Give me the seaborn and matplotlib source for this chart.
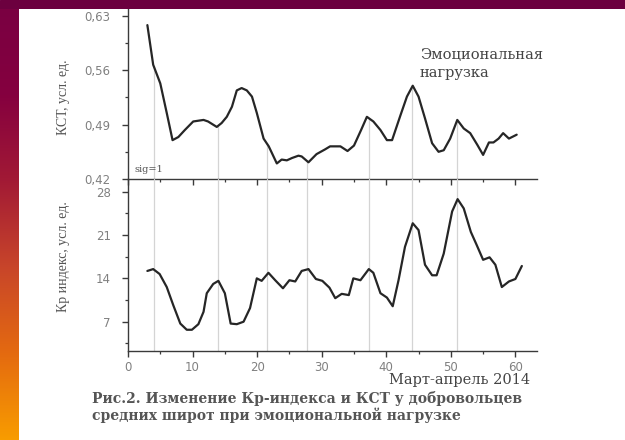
import numpy as np
import pandas as pd
import matplotlib
matplotlib.use("Agg")
import matplotlib.pyplot as plt
from matplotlib.colors import LinearSegmentedColormap
from matplotlib.ticker import MultipleLocator, FuncFormatter
import seaborn as sns

# КСТ by day of the March–April 2014 observation period
kst_day = [3.0, 3.9, 5.0, 6.0, 6.9, 7.8, 8.8, 10.1, 11.7, 12.4, 13.75, 14.5, 15.3, 16.1,
           16.85, 17.6, 18.4, 19.2, 19.95, 21.0, 21.8, 23.05, 23.8, 24.6, 25.4, 26.4, 26.9,
           27.95, 29.2, 30.5, 31.3, 32.9, 34.0, 35.0, 36.1, 37.0, 38.0, 39.1, 40.1, 40.9,
           42.2, 43.2, 44.1, 45.0, 46.0, 47.1, 48.1, 48.9, 49.9, 51.0, 52.0, 53.0, 54.1,
           55.0, 55.9, 56.6, 57.4, 58.1, 59.0, 60.2]
kst_val = [0.618, 0.567, 0.543, 0.505, 0.470, 0.474, 0.483, 0.494, 0.496, 0.494, 0.487,
           0.492, 0.500, 0.513, 0.534, 0.537, 0.534, 0.526, 0.505, 0.472, 0.462, 0.440,
           0.445, 0.444, 0.447, 0.450, 0.449, 0.4415, 0.452, 0.458, 0.462, 0.462, 0.456,
           0.463, 0.483, 0.500, 0.494, 0.483, 0.470, 0.470, 0.502, 0.526, 0.540, 0.526,
           0.498, 0.466, 0.455, 0.457, 0.472, 0.496, 0.485, 0.479, 0.464, 0.451, 0.467,
           0.467, 0.472, 0.479, 0.472, 0.477]

# Kp index by day
kp_day = [3.0, 3.9, 4.9, 6.0, 7.0, 8.1, 9.1, 9.9, 10.9, 11.7, 12.2, 13.2, 14.0, 15.0, 15.9,
          16.85, 17.9, 18.9, 19.95, 20.7, 21.75, 22.8, 24.0, 25.0, 25.9, 26.9, 27.95, 29.1,
          30.1, 31.2, 32.1, 33.1, 34.2, 34.9, 36.0, 37.3, 38.0, 39.1, 40.1, 41.0, 41.9,
          42.9, 44.1, 45.0, 46.0, 47.1, 47.8, 48.9, 50.2, 51.05, 52.0, 53.1, 54.0, 55.0,
          56.0, 56.9, 57.9, 59.0, 60.0, 61.0]
kp_val = [15.2, 15.5, 14.7, 12.6, 9.7, 6.7, 5.7, 5.7, 6.6, 8.6, 11.6, 13.1, 13.6, 11.6, 6.7,
          6.6, 7.0, 9.2, 14.0, 13.6, 14.9, 13.7, 12.4, 13.7, 13.5, 15.2, 15.5, 13.9, 13.6,
          12.5, 10.8, 11.5, 11.3, 14.0, 13.7, 15.5, 14.9, 11.6, 10.9, 9.5, 13.7, 19.1,
          22.9, 21.8, 16.2, 14.5, 14.5, 18.0, 24.8, 26.8, 25.3, 21.5, 19.4, 17.0, 17.4,
          16.2, 12.6, 13.5, 13.9, 16.0]

# days of emotional load
load_days = [4, 14, 21.5, 27.7, 37.4, 44, 51]

kst_ticks = [0.42, 0.49, 0.56, 0.63]
kp_ticks = [7, 14, 21, 28]
day_ticks = [0, 10, 20, 30, 40, 50, 60]

kst_df = pd.DataFrame({"day": kst_day, "kst": kst_val})
kp_df = pd.DataFrame({"day": kp_day, "kp": kp_val})

sns.set_style("ticks")
plt.rcParams["font.family"] = ["Liberation Serif", "DejaVu Serif"]

W, H = 625, 440
fig = plt.figure(figsize=(W / 100, H / 100), dpi=100)
fig.patch.set_facecolor("white")

LINE = "#262626"
SPINE = "#3a3a3a"
TICKLAB = "#808080"
GRID = "#d4d4d4"
WIDE_SERIF = "DejaVu Serif"

left = 128 / W
width = (536.7 - 128) / W
ax_top = fig.add_axes([left, 1 - 179 / H, width, 171 / H])
ax_bot = fig.add_axes([left, 1 - 350.5 / H, width, 171.5 / H])

comma = FuncFormatter(lambda v, p: f"{v:.2f}".replace(".", ","))

for ax in (ax_top, ax_bot):
    ax.set_facecolor("none")
    ax.set_xlim(0, 63.3)
    for s in ("top", "right"):
        ax.spines[s].set_visible(False)
    for s in ("left", "bottom"):
        ax.spines[s].set_color(SPINE)
        ax.spines[s].set_linewidth(1.0)
    ax.xaxis.set_major_locator(MultipleLocator(10))
    ax.xaxis.set_minor_locator(MultipleLocator(5))
    ax.tick_params(which="major", direction="out", length=4.5, width=1.0,
                   color=SPINE, labelcolor=TICKLAB, labelsize=8.5)
    ax.tick_params(which="minor", direction="out", length=2.5, width=0.9, color=SPINE)
    ax.tick_params(axis="y", pad=8)
    ax.tick_params(axis="x", pad=3)

# upper panel: КСТ
ax_top.set_ylim(0.42, 0.64)
ax_top.set_yticks(kst_ticks)
ax_top.yaxis.set_minor_locator(MultipleLocator(0.035))
ax_top.yaxis.set_major_formatter(comma)
ax_top.tick_params(axis="x", labelbottom=False)
tops = np.interp(load_days, kst_day, kst_val)
for d, t in zip(load_days, tops):
    ax_top.plot([d, d], [0.42, t], color=GRID, lw=0.9, zorder=1)
sns.lineplot(data=kst_df, x="day", y="kst", ax=ax_top, color=LINE, lw=1.6,
             sort=True, zorder=3)
ax_top.set_xlabel("")
ax_top.set_ylabel("")
ax_top.text(1.0, 0.427, "sig=1", fontsize=7, color="#555555", va="bottom", ha="left",
            family=WIDE_SERIF)

# lower panel: Kp index
ax_bot.set_ylim(2.35, 30.05)
ax_bot.set_yticks(kp_ticks)
ax_bot.yaxis.set_minor_locator(MultipleLocator(3.5))
ax_bot.set_xticks(day_ticks)
for d in load_days:
    ax_bot.axvline(d, color=GRID, lw=0.9, zorder=1)
sns.lineplot(data=kp_df, x="day", y="kp", ax=ax_bot, color=LINE, lw=1.6,
             sort=True, zorder=3)
ax_bot.set_xlabel("")
ax_bot.set_ylabel("")

for ax in (ax_top, ax_bot):
    for lab in ax.get_xticklabels() + ax.get_yticklabels():
        lab.set_fontfamily("DejaVu Sans")

# axis titles and annotations
fig.text(64 / W, 1 - 97 / H, "КСТ, усл. ед.", rotation=90, ha="center", va="center",
         fontsize=10, color="#555555")
fig.text(64 / W, 1 - 257 / H, "Кр индекс, усл. ед.", rotation=90, ha="center",
         va="center", fontsize=10, color="#555555")
fig.text(420 / W, 1 - 55 / H, "Эмоциональная", ha="left", va="center",
         fontsize=10.5, color="#444444", family=WIDE_SERIF)
fig.text(420 / W, 1 - 73 / H, "нагрузка", ha="left", va="center",
         fontsize=10.5, color="#444444", family=WIDE_SERIF)
fig.text(530 / W, 1 - 380 / H, "Март-апрель 2014", ha="right", va="center",
         fontsize=10.5, color="#444444", family=WIDE_SERIF)
fig.text(92 / W, 1 - 398 / H, "Рис.2. Изменение Кр-индекса и КСТ у добровольцев",
         ha="left", va="center", fontsize=10, fontweight="bold", color="#555555",
         family=WIDE_SERIF)
fig.text(92 / W, 1 - 415 / H, "средних широт при эмоциональной нагрузке",
         ha="left", va="center", fontsize=10, fontweight="bold", color="#555555",
         family=WIDE_SERIF)

# slide decoration: top band and vertical gradient strip
band = fig.add_axes([0, 1 - 9 / H, 1, 9 / H])
band.set_axis_off()
band.add_patch(plt.Rectangle((0, 0), 1, 1, color="#6c003f", transform=band.transAxes))

strip = fig.add_axes([0, 0, 19 / W, 1 - 9 / H])
strip.set_axis_off()
cmap = LinearSegmentedColormap.from_list(
    "slide", ["#7a0042", "#85003f", "#a21a35", "#c8452a", "#e46a10", "#f89c00"])
strip.imshow(np.linspace(0, 1, 256).reshape(-1, 1), aspect="auto", cmap=cmap,
             extent=(0, 1, 0, 1), origin="upper")

fig.savefig("out.png", dpi=100, facecolor="white")
